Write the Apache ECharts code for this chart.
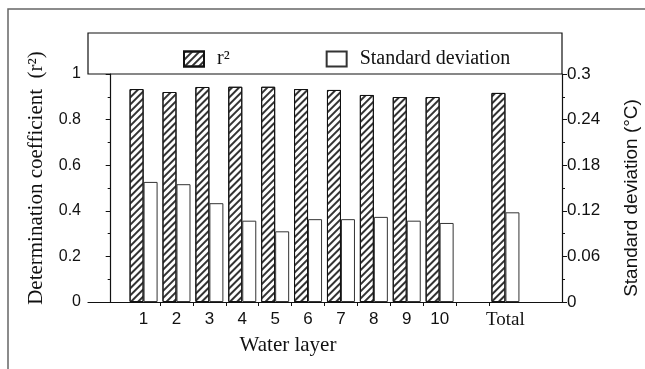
<!DOCTYPE html>
<html><head><meta charset="utf-8">
<script src="https://cdn.jsdelivr.net/npm/echarts@6/dist/echarts.min.js"></script>
<style>html,body{margin:0;padding:0;background:#fff}#c{width:645px;height:369px}</style>
</head><body><div id="c"></div>
<script>
// ---- data ----
const categories = ['1','2','3','4','5','6','7','8','9','10','','Total'];
const r2Values = [0.934,0.921,0.943,0.944,0.944,0.934,0.930,0.908,0.899,0.899,null,0.917];
const sdValues = [0.158,0.155,0.130,0.107,0.093,0.109,0.109,0.112,0.107,0.104,null,0.118];
const leftTickLabels = ['0','0.2','0.4','0.6','0.8','1'];
const rightTickLabels = ['0','0.06','0.12','0.18','0.24','0.3'];
const seriesNames = ['r\u00B2','Standard deviation'];
const axisTitles = {x:'Water layer', left:'Determination coefficient  (r\u00B2)', right:'Standard deviation (\u00B0C)'};

// ---- build ----
const slotOf = i => i + 1;
const pts = vals => vals.map((v,i)=> v==null ? null : [slotOf(i), v]).filter(d=>d);
const labelSlots = categories.map((c,i)=> c!=='' ? slotOf(i) : null).filter(v=>v!=null);
const tickSlots = categories.slice(0,-1).map((c,i)=> slotOf(i)+0.5);

const chart = echarts.init(document.getElementById('c'), null, {renderer:'canvas'});
const serif = 'Liberation Serif';
const sans = 'Liberation Sans';
chart.setOption({
  animation:false,
  backgroundColor:'#fff',
  grid:{left:88, right:83, top:74, bottom:67},
  legend:{
    data:seriesNames, left:178, top:44, itemWidth:20, itemHeight:15, itemGap:96, icon:'rect',
    textStyle:{fontFamily:serif, fontSize:20, color:'#111', padding:[0,0,0,8]}
  },
  xAxis:{
    type:'value', min:-0.69, max:13.72,
    axisLine:{lineStyle:{color:'#111', width:1.2}},
    axisTick:{show:true, customValues:tickSlots, length:4, lineStyle:{color:'#111'}},
    axisLabel:{customValues:labelSlots, margin:9,
      formatter:v=>{const c=categories[Math.round(v)-1]; return c==='Total'?'{t|'+c+'}':'{n|'+c+'}';},
      rich:{n:{fontFamily:sans,fontSize:17,color:'#111'}, t:{fontFamily:serif,fontSize:19,color:'#111'}}},
    splitLine:{show:false}
  },
  yAxis:[
    {type:'value', position:'left', min:0, max:1, interval:0.2,
     axisLine:{show:true, lineStyle:{color:'#111', width:1.2}},
     axisTick:{show:true, length:5, lineStyle:{color:'#111'}},
     minorTick:{show:true, splitNumber:2, length:3, lineStyle:{color:'#111'}},
     axisLabel:{margin:7, fontFamily:sans, fontSize:16, color:'#111',
       formatter:v=>leftTickLabels[Math.round(v/0.2)]},
     splitLine:{show:false}},
    {type:'value', position:'right', min:0, max:0.3, interval:0.06,
     axisLine:{show:true, lineStyle:{color:'#111', width:1.2}},
     axisTick:{show:true, length:5, lineStyle:{color:'#111'}},
     minorTick:{show:true, splitNumber:2, length:3, lineStyle:{color:'#111'}},
     axisLabel:{margin:5, fontFamily:sans, fontSize:17, color:'#111',
       formatter:v=>rightTickLabels[Math.round(v/0.06)]},
     splitLine:{show:false}}
  ],
  series:[
    {name:seriesNames[0], type:'bar', yAxisIndex:0, data:pts(r2Values), barWidth:14, barGap:'0%',
     itemStyle:{color:'#fff', borderColor:'#111', borderWidth:1,
       decal:{symbol:'rect', symbolSize:1, color:'#333', dashArrayX:[1,0], dashArrayY:[1.3,3], rotation:-Math.PI/4}}},
    {name:seriesNames[1], type:'bar', yAxisIndex:1, data:pts(sdValues), barWidth:14, barGap:'0%',
     itemStyle:{color:'#fff', borderColor:'#333', borderWidth:1}}
  ],
  graphic:[
    {type:'polyline', shape:{points:[[8,369],[8,9],[645,9]]}, style:{stroke:'#666', lineWidth:1.5, fill:null}},
    {type:'rect', shape:{x:88, y:33, width:474, height:41}, style:{stroke:'#111', lineWidth:1.2, fill:null}, z:-1},
    {type:'text', x:36, y:178, rotation:Math.PI/2,
     style:{text:axisTitles.left, font:'21px '+serif, fill:'#111', textAlign:'center', textVerticalAlign:'middle'}},
    {type:'text', x:632, y:198, rotation:Math.PI/2,
     style:{text:axisTitles.right, font:'19px '+sans, fill:'#111', textAlign:'center', textVerticalAlign:'middle'}},
    {type:'text', x:288, y:345,
     style:{text:axisTitles.x, font:'21px '+serif, fill:'#111', textAlign:'center', textVerticalAlign:'middle'}}
  ]
});
</script></body></html>
